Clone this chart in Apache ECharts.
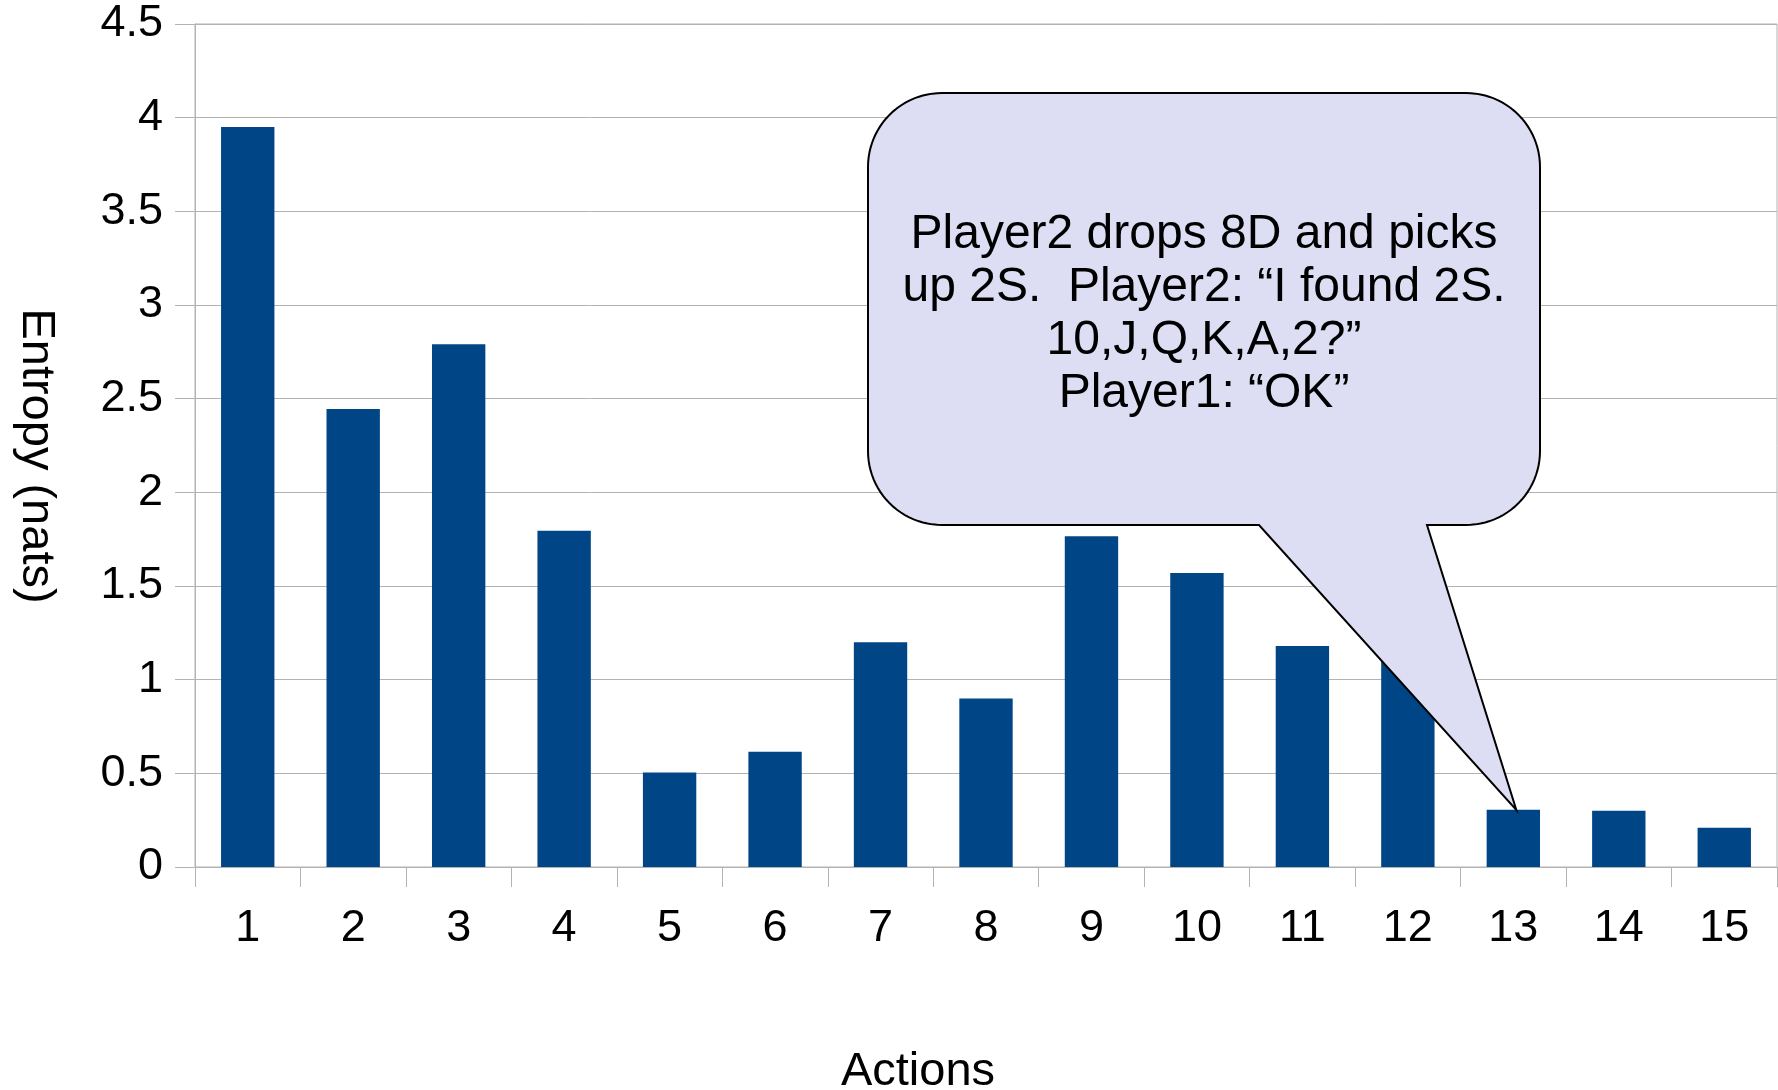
<!DOCTYPE html>
<html>
<head>
<meta charset="utf-8">
<title>Entropy per action</title>
<script src="https://cdn.jsdelivr.net/npm/echarts@6/dist/echarts.min.js"></script>
<style>
  html, body { margin: 0; padding: 0; background: #ffffff; }
  #chart { width: 1778px; height: 1090px; }
</style>
</head>
<body>
<div id="chart"></div>
<script>
// Action numbers along the x axis
const actions = ['1', '2', '3', '4', '5', '6', '7', '8', '9', '10', '11', '12', '13', '14', '15'];
// Entropy after each action, in nats
const entropy = [3.95, 2.445, 2.79, 1.795, 0.505, 0.615, 1.2, 0.9, 1.765, 1.57, 1.18, 1.25, 0.305, 0.3, 0.21];
// Y axis range and step
const yMin = 0;
const yMax = 4.5;
const yStep = 0.5;
// Speech-bubble annotation and the action it points at
const noteLines = [
  'Player2 drops 8D and picks',
  'up 2S.  Player2: \u201cI found 2S.',
  '10,J,Q,K,A,2?\u201d',
  'Player1: \u201cOK\u201d'
];
const noteAction = 13;

const FONT = '"Liberation Sans", Arial, Helvetica, sans-serif';
const GRID_GRAY = '#b3b3b3';

const chart = echarts.init(document.getElementById('chart'), null, { renderer: 'canvas' });

chart.setOption({
  animation: false,
  backgroundColor: '#ffffff',
  grid: {
    left: 195, right: 1, top: 24, bottom: 223,
    outerBoundsMode: 'none',
    containLabel: false,
    show: true, borderColor: GRID_GRAY, borderWidth: 1, backgroundColor: 'transparent'
  },
  xAxis: {
    type: 'category',
    data: actions,
    boundaryGap: true,
    name: 'Actions',
    nameLocation: 'middle',
    nameGap: 182,
    nameTextStyle: { fontFamily: FONT, fontSize: 47, color: '#000', padding: [0, 136, 0, 0] },
    axisLine: { show: true, lineStyle: { color: GRID_GRAY, width: 1 } },
    axisTick: { show: true, alignWithLabel: false, length: 20, lineStyle: { color: GRID_GRAY } },
    axisLabel: { fontFamily: FONT, fontSize: 45, color: '#000', margin: 39 },
    splitLine: { show: false }
  },
  yAxis: {
    type: 'value',
    min: yMin, max: yMax, interval: yStep,
    name: 'Entropy (nats)',
    nameLocation: 'middle',
    nameRotate: -90,
    nameGap: 136,
    nameTextStyle: { fontFamily: FONT, fontSize: 47, color: '#000', padding: [0, 0, 0, 21] },
    axisLine: { show: true, lineStyle: { color: GRID_GRAY, width: 1 } },
    axisTick: { show: true, length: 20, lineStyle: { color: GRID_GRAY } },
    axisLabel: { fontFamily: FONT, fontSize: 45, color: '#000', margin: 32 },
    splitLine: { show: true, lineStyle: { color: GRID_GRAY, width: 1 } }
  },
  series: [{
    type: 'bar',
    data: entropy,
    barCategoryGap: '49.4%',
    itemStyle: { color: '#004586' }
  }]
});

// Quarter-circle corner as a run of points, from angle a0 to a1 (radians)
function corner(cx, cy, r, a0, a1, steps) {
  const pts = [];
  for (let i = 0; i <= steps; i++) {
    const a = a0 + (a1 - a0) * i / steps;
    pts.push([cx + r * Math.cos(a), cy + r * Math.sin(a)]);
  }
  return pts;
}

// Speech bubble outline: rounded box with a pointed tail ending on the annotated bar
function bubblePoints(L, T, R, B, r, tailA, tailB, tip) {
  const n = 24, H = Math.PI / 2;
  return [].concat(
    corner(L + r, T + r, r, 2 * H, 3 * H, n),   // top-left
    corner(R - r, T + r, r, 3 * H, 4 * H, n),   // top-right
    corner(R - r, B - r, r, 0, H, n),           // bottom-right
    [[tailB, B], [tip[0], tip[1]], [tailA, B]],
    corner(L + r, B - r, r, H, 2 * H, n)        // bottom-left
  );
}

const idx = noteAction - 1;
const tip = chart.convertToPixel({ seriesIndex: 0 }, [idx, entropy[idx]]);
tip[0] += 3;

const box = { L: 868, T: 93, R: 1540, B: 525, r: 74 };
const tailLeft = 1259, tailRight = 1427;

chart.setOption({
  graphic: [
    {
      type: 'polygon',
      z: 100,
      shape: { points: bubblePoints(box.L, box.T, box.R, box.B, box.r, tailLeft, tailRight, tip) },
      style: { fill: '#ddddf4', stroke: '#000000', lineWidth: 2, lineJoin: 'miter' }
    },
    {
      type: 'text',
      z: 101,
      x: (box.L + box.R) / 2,
      y: 314,
      style: {
        text: noteLines.join('\n'),
        fontFamily: FONT,
        fontSize: 48,
        lineHeight: 53,
        fill: '#000000',
        align: 'center',
        verticalAlign: 'middle'
      }
    }
  ]
});
</script>
</body>
</html>
